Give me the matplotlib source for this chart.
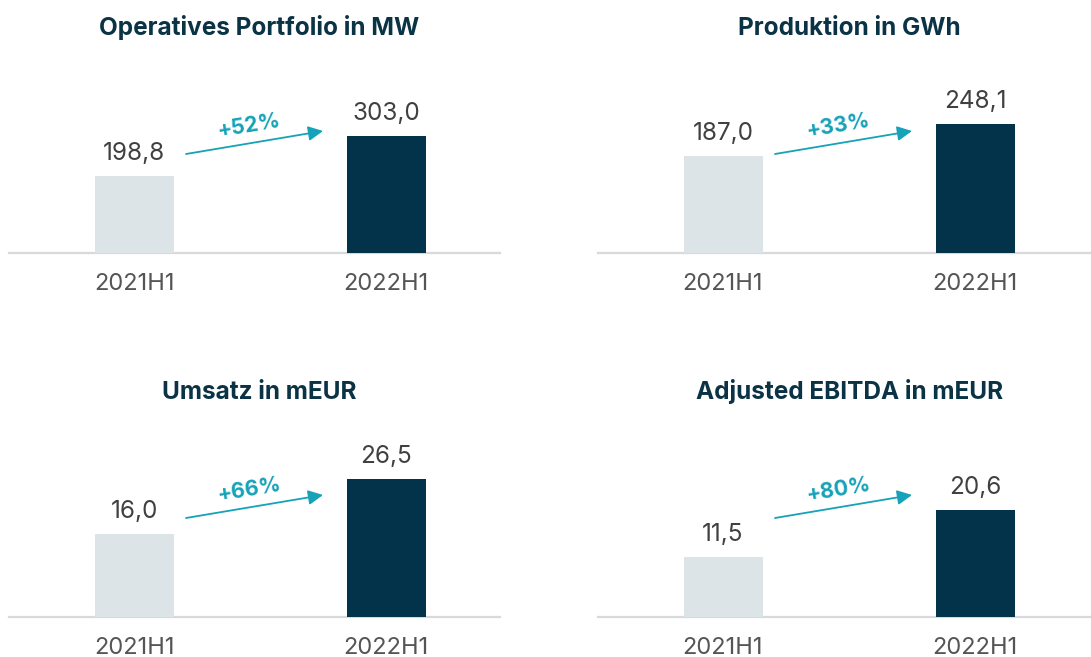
import matplotlib
matplotlib.use("Agg")
import matplotlib.pyplot as plt

# --- data -------------------------------------------------------------
categories = ["2021H1", "2022H1"]
portfolio_mw = [198.8, 303.0]
production_gwh = [187.0, 248.1]
revenue_meur = [16.0, 26.5]
ebitda_meur = [11.5, 20.6]
growth_labels = ["+52%", "+33%", "+66%", "+80%"]
titles = ["Operatives Portfolio in MW", "Produktion in GWh",
          "Umsatz in mEUR", "Adjusted EBITDA in mEUR"]

# --- style ------------------------------------------------------------
W, H = 1091, 657
NAVY = "#02334a"
LIGHT = "#dde4e7"
TEAL = "#16a2b8"
GRID = "#d6dadd"
TEXT = "#404040"
FONT = "Inter"

fig = plt.figure(figsize=(W / 100, H / 100), dpi=100)


def fx(px):
    return px / W


def fy(py):
    return 1 - py / H


# panel layout: left edge, right edge, baseline (pixels from top), y-axis top
panels = [
    (portfolio_mw, 9, 500, 253, 518),
    (production_gwh, 598, 1091, 253, 385),
    (revenue_meur, 9, 500, 617, 38.4),
    (ebitda_meur, 598, 1091, 617, 38.5),
]
AX_H = 200  # axes height in pixels
SPACING = 252  # pixels between bar centres
BAR_PX = 79

for i, (values, x0, x1, base, ytop) in enumerate(panels):
    ax = fig.add_axes([fx(x0), fy(base), fx(x1 - x0), AX_H / H])
    xs = [0, 1]
    ax.bar(xs, values, width=BAR_PX / SPACING, color=[LIGHT, NAVY], zorder=3)
    ax.set_xlim(-125 / SPACING, 1 + (x1 - x0 - 125 - SPACING) / SPACING)
    ax.set_ylim(0, ytop)
    for s in ["top", "left", "right"]:
        ax.spines[s].set_visible(False)
    ax.spines["bottom"].set_color(GRID)
    ax.spines["bottom"].set_linewidth(1.6)
    ax.set_yticks([])
    ax.set_xticks(xs)
    ax.set_xticklabels(categories, fontsize=17, color="#555555", family=FONT)
    ax.tick_params(axis="x", length=0, pad=14.5)
    ax.patch.set_alpha(0)

    for x, v in zip(xs, values):
        ax.annotate(f"{v:.1f}".replace(".", ","), (x, v),
                    xytext=(0, 11.5), textcoords="offset points",
                    ha="center", va="baseline", fontsize=17.5,
                    color=TEXT, family=FONT)

    # growth arrow and label
    ax.annotate("", xy=(fx(x0 + 314), fy(base - 122)),
                xytext=(fx(x0 + 177), fy(base - 99)),
                xycoords="figure fraction", textcoords="figure fraction",
                arrowprops=dict(arrowstyle="-|>", color=TEAL, lw=1.3,
                                mutation_scale=22, shrinkA=0, shrinkB=0))
    fig.text(fx(x0 + 240), fy(base - 127), growth_labels[i],
             ha="center", va="center", rotation=9.5, fontsize=15.5,
             fontweight="bold", color=TEAL, family=FONT)

    # panel title
    fig.text(fx((x0 + x1) / 2 + 5), fy(base - 218), titles[i],
             ha="center", va="baseline", fontsize=17.5, fontweight="bold",
             color="#0b3346", family=FONT)

fig.savefig("out.png", dpi=100)
